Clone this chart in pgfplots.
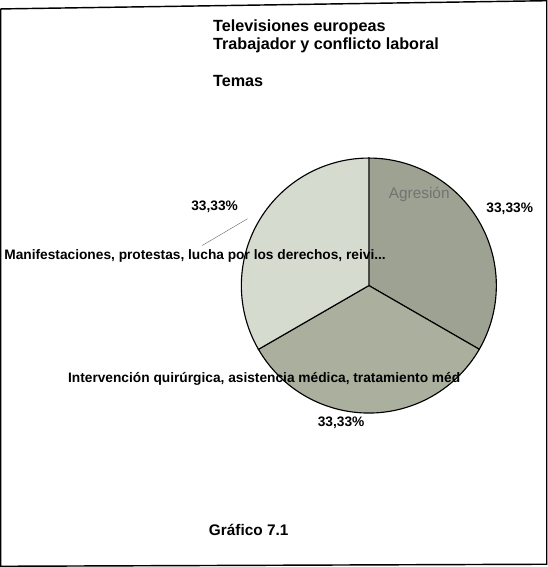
\documentclass[border=0pt]{standalone}
\usepackage{fontspec}
\setmainfont{Liberation Sans}
\usepackage{pgfplots}
\pgfplotsset{compat=1.18}
\definecolor{agresion}{HTML}{9DA292}
\definecolor{interv}{HTML}{AAAF9E}
\definecolor{manif}{HTML}{D6DBCF}

% slice shares (percent), clockwise from 12 o'clock
\def\va{33.33}
\def\vb{33.33}
\def\vc{33.34}
\pgfmathsetmacro\aA{90}
\pgfmathsetmacro\aB{90-3.6*\va}
\pgfmathsetmacro\aC{90-3.6*(\va+\vb)}
\pgfmathsetmacro\aD{90-3.6*(\va+\vb+\vc)}
\def\cx{370}
\def\cy{-287}
\def\r{124}

\begin{document}
\begin{tikzpicture}
\begin{axis}[width=546bp,height=567bp,scale only axis,hide axis,clip=false,
  xmin=0,xmax=546,ymin=-567,ymax=0]
% frame
\addplot[black,line width=1.4pt] coordinates {(12,-18) (543,-10) (543,-558) (12,-560) (12,-18)};
% slices
\addplot[fill=agresion,draw=black,line width=1.1pt,domain=\aB:\aA,samples=60,variable=\t]
  ({\cx+\r*cos(\t)},{\cy+\r*sin(\t)}) -- (axis cs:\cx,\cy) -- cycle;
\addplot[fill=interv,draw=black,line width=1.1pt,domain=\aC:\aB,samples=60,variable=\t]
  ({\cx+\r*cos(\t)},{\cy+\r*sin(\t)}) -- (axis cs:\cx,\cy) -- cycle;
\addplot[fill=manif,draw=black,line width=1.1pt,domain=\aD:\aC,samples=60,variable=\t]
  ({\cx+\r*cos(\t)},{\cy+\r*sin(\t)}) -- (axis cs:\cx,\cy) -- cycle;
% leader line
\addplot[black!60,thin] coordinates {(208,-248) (252,-222)};

\begin{scope}[font=\fontsize{15.8}{18}\selectfont\bfseries]
\node[anchor=west] at (axis cs:215,-36) {Televisiones europeas};
\node[anchor=west] at (axis cs:215,-53) {Trabajador y conflicto laboral};
\node[anchor=west] at (axis cs:215,-88) {Temas};
\end{scope}
\node[anchor=west,font=\fontsize{15}{18}\selectfont\bfseries] at (axis cs:211,-525) {Gráfico 7.1};
\begin{scope}[font=\fontsize{13.4}{15}\selectfont\bfseries]
\node at (axis cs:220,-210) {33,33\%};
\node at (axis cs:507,-212) {33,33\%};
\node at (axis cs:343,-420) {33,33\%};
\node[anchor=west] at (axis cs:12,-258) {Manifestaciones, protestas, lucha por los derechos, reivi...};
\node[anchor=west] at (axis cs:74,-378) {Intervención quirúrgica, asistencia médica, tratamiento méd};
\end{scope}
\node[black!55,font=\fontsize{15}{18}\selectfont] at (axis cs:419,-198) {Agresión};
\end{axis}
\end{tikzpicture}
\end{document}
